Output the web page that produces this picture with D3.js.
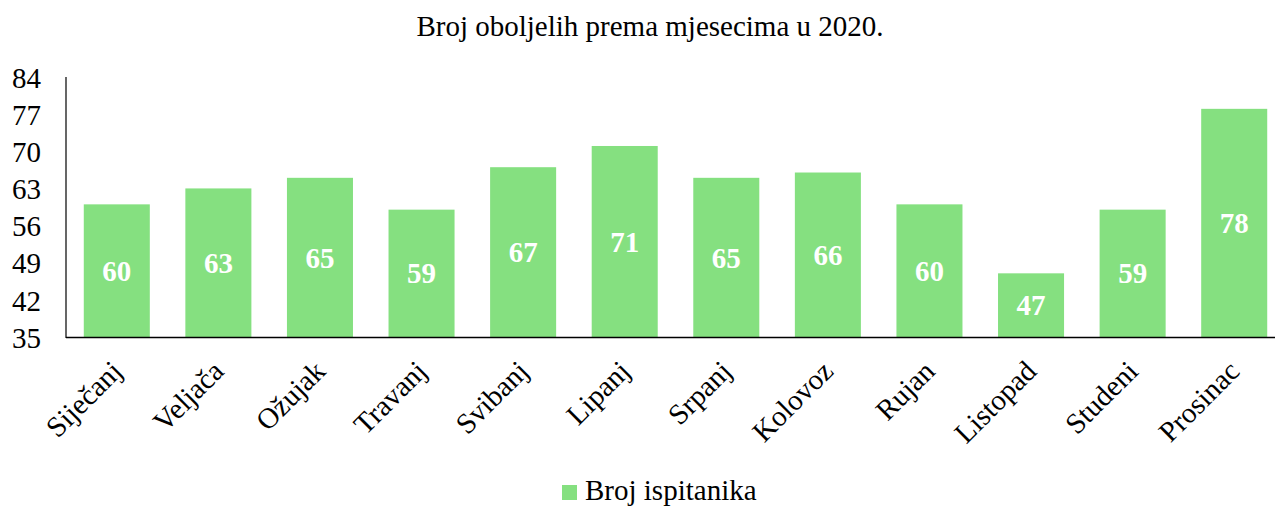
<!DOCTYPE html>
<html>
<head>
<meta charset="utf-8">
<script src="https://cdn.jsdelivr.net/npm/d3@7"></script>
<style>
  html, body { margin: 0; padding: 0; background: #fff; }
  svg { display: block; }
  svg text { font-family: "Liberation Serif", "Times New Roman", serif; }
</style>
</head>
<body>
<svg id="chart" width="1275" height="506"></svg>
<script>
const categories = ["Siječanj", "Veljača", "Ožujak", "Travanj", "Svibanj", "Lipanj", "Srpanj", "Kolovoz", "Rujan", "Listopad", "Studeni", "Prosinac"];
const values = [60, 63, 65, 59, 67, 71, 65, 66, 60, 47, 59, 78];
const yTicks = [35, 42, 49, 56, 63, 70, 77, 84];
const seriesName = "Broj ispitanika";
const title = "Broj oboljelih prema mjesecima u 2020.";

const FONT = "Liberation Serif, Times New Roman, serif";
const FS = 29;
const svg = d3.select("#chart");
const color = "#85e080";

const x = d3.scaleBand().domain(categories).range([66, 1285]).paddingInner(0.35).paddingOuter(0.175);
const y = d3.scaleLinear().domain([35, 84]).range([337, 77]);

svg.append("text").attr("x", 650).attr("y", 36).attr("text-anchor", "middle")
  .attr("font-family", FONT).attr("font-size", FS).attr("fill", "#000").text(title);

// y axis labels
const yAxis = d3.axisLeft(y).tickValues(yTicks).tickSize(0).tickPadding(25);
const gy = svg.append("g").attr("transform", "translate(66,0)").call(yAxis);
gy.select(".domain").remove();
gy.attr("font-family", FONT).attr("font-size", FS);
gy.selectAll("text").attr("font-size", FS).attr("fill", "#000").attr("font-family", FONT).attr("dy", "0.35em");

// bars
svg.append("g").selectAll("rect").data(values).join("rect")
  .attr("x", (d, i) => x(categories[i]))
  .attr("width", x.bandwidth())
  .attr("y", d => y(d))
  .attr("height", d => y(35) - y(d))
  .attr("fill", color);

// value labels
svg.append("g").selectAll("text").data(values).join("text")
  .attr("x", (d, i) => x(categories[i]) + x.bandwidth() / 2)
  .attr("y", d => (y(d) + y(35)) / 2)
  .attr("dy", "0.35em")
  .attr("text-anchor", "middle")
  .attr("font-family", FONT)
  .attr("font-size", FS).attr("font-weight", "bold").attr("fill", "#fff")
  .text(d => d);

// axes lines
svg.append("line").attr("x1", 66).attr("x2", 1275).attr("y1", 337.5).attr("y2", 337.5).attr("stroke", "#000").attr("stroke-width", 1.5);
svg.append("line").attr("x1", 66).attr("x2", 66).attr("y1", 77).attr("y2", 338).attr("stroke", "#000").attr("stroke-width", 1.2);

// x labels
const xAxis = d3.axisBottom(x).tickSize(0).tickPadding(0);
const gx = svg.append("g").attr("transform", "translate(0,337)").call(xAxis);
gx.select(".domain").remove();
gx.attr("font-family", FONT).attr("font-size", FS);
gx.selectAll("text")
  .attr("font-size", FS).attr("fill", "#000").attr("font-family", FONT)
  .attr("text-anchor", "end")
  .attr("dy", 0).attr("y", 0)
  .attr("transform", "translate(7,36) rotate(-45)");

// legend
const lg = svg.append("g");
lg.append("rect").attr("x", 562).attr("y", 485).attr("width", 15).attr("height", 15).attr("fill", color);
lg.append("text").attr("x", 585).attr("y", 500).attr("font-family", FONT).attr("font-size", FS).attr("fill", "#000").text(seriesName);
</script>
</body>
</html>
